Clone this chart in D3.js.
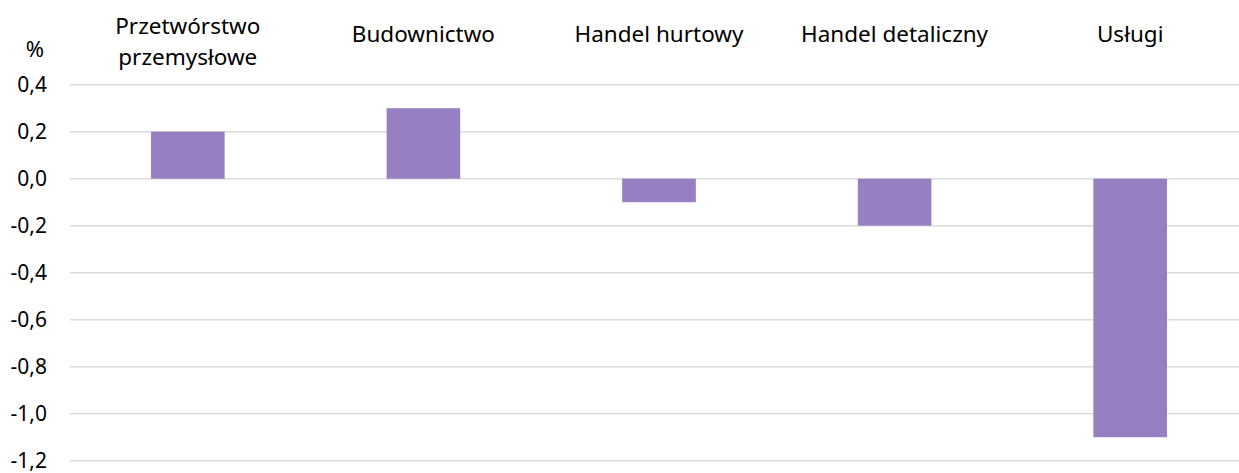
<!DOCTYPE html>
<html lang="pl">
<meta charset="utf-8">
<script src="https://cdn.jsdelivr.net/npm/d3@7"></script>
<style>
  body { margin: 0; background: #fff; }
  text { font-family: "Noto Sans", sans-serif; fill: #000; }
</style>
<body>
<div id="chart"></div>
<script>
// data
var categories = ["Przetwórstwo przemysłowe", "Budownictwo", "Handel hurtowy", "Handel detaliczny", "Usługi"];
var labelLines = [["Przetwórstwo", "przemysłowe"], ["Budownictwo"], ["Handel hurtowy"], ["Handel detaliczny"], ["Usługi"]];
var values = [0.2, 0.3, -0.1, -0.2, -1.1];
var yTicks = [0.4, 0.2, 0.0, -0.2, -0.4, -0.6, -0.8, -1.0, -1.2];
var unitLabel = "%";

var W = 1239, H = 473;
var plotLeft = 70, plotRight = 1248, plotTop = 84.7, plotBottom = 460.7;

var svg = d3.select("#chart").append("svg")
    .attr("width", W)
    .attr("height", H);

var x = d3.scaleBand()
    .domain(categories)
    .range([plotLeft, plotRight])
    .paddingInner(0.6875)
    .paddingOuter(0.34375);

var y = d3.scaleLinear()
    .domain([-1.2, 0.4])
    .range([plotBottom, plotTop]);

var fmt = function(d) { return d3.format(".1f")(d).replace(".", ",").replace("−", "-"); };

// gridlines
svg.append("g").selectAll("line")
  .data(yTicks)
  .enter().append("line")
    .attr("x1", plotLeft)
    .attr("x2", plotRight)
    .attr("y1", function(d) { return y(d); })
    .attr("y2", function(d) { return y(d); })
    .attr("stroke", "#dcdcdc")
    .attr("stroke-width", 1.6);

// y axis labels
var yAxis = svg.append("g")
    .attr("transform", "translate(" + plotLeft + ",0)")
    .call(d3.axisLeft(y).tickValues(yTicks).tickFormat(fmt).tickSize(0).tickPadding(23));
yAxis.select(".domain").remove();
yAxis.selectAll("text")
    .style("font-family", "Noto Sans, sans-serif")
    .style("font-size", "21px")
    .attr("fill", "#000");

svg.append("text")
    .attr("x", 35)
    .attr("y", 57)
    .attr("text-anchor", "middle")
    .style("font-size", "22px")
    .text(unitLabel);

// bars
svg.append("g").selectAll("rect")
  .data(values)
  .enter().append("rect")
    .attr("x", function(d, i) { return x(categories[i]); })
    .attr("width", x.bandwidth())
    .attr("y", function(d) { return y(Math.max(0, d)); })
    .attr("height", function(d) { return Math.abs(y(d) - y(0)); })
    .attr("fill", "#977fc1");

// category labels on top
var lab = svg.append("g").selectAll("text")
  .data(labelLines)
  .enter().append("text")
    .attr("text-anchor", "middle")
    .attr("x", function(d, i) { return x(categories[i]) + x.bandwidth() / 2; })
    .attr("y", function(d) { return d.length > 1 ? 34 : 42; })
    .style("font-size", "22.5px");
lab.selectAll("tspan")
  .data(function(d) { return d; })
  .enter().append("tspan")
    .attr("x", function() { return d3.select(this.parentNode).attr("x"); })
    .attr("dy", function(d, i) { return i === 0 ? 0 : 31; })
    .text(function(d) { return d; });
</script>
</body>
</html>
